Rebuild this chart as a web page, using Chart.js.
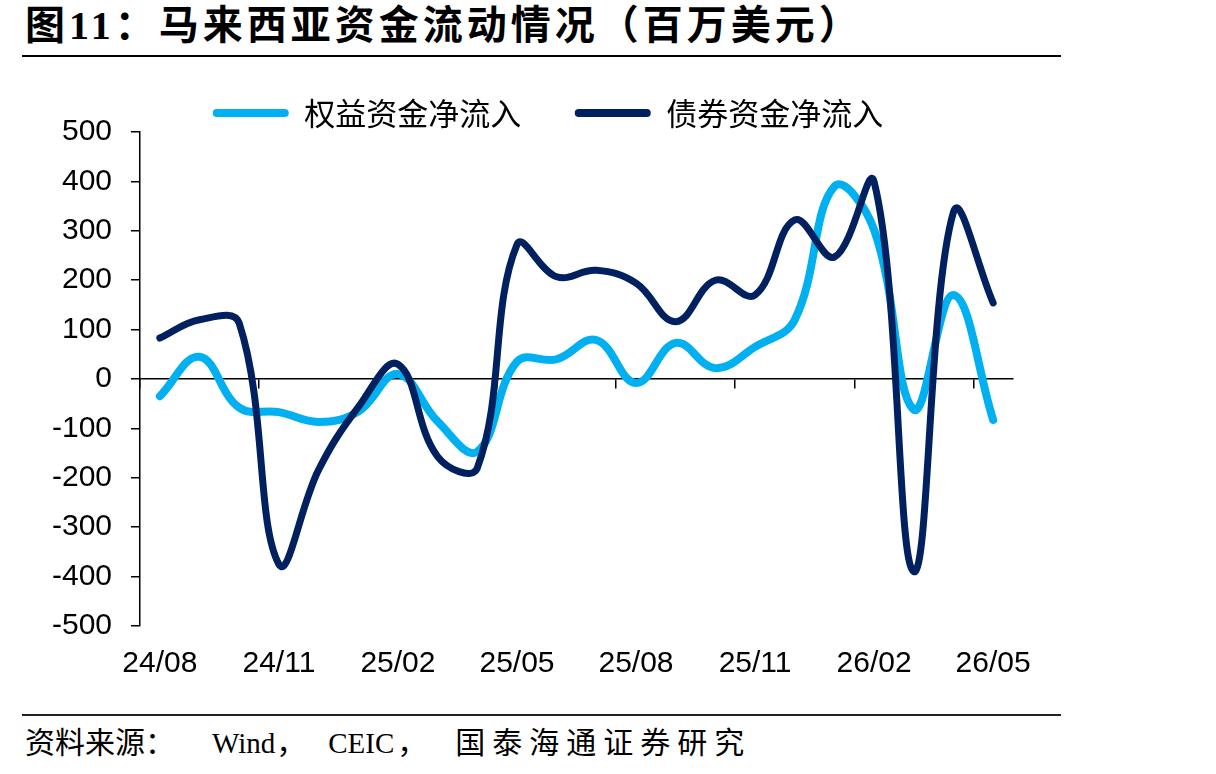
<!DOCTYPE html>
<html>
<head>
<meta charset="utf-8">
<script src="https://cdn.jsdelivr.net/npm/chart.js@4/dist/chart.umd.min.js"></script>
<style>
  body { margin: 0; background: #fff; width: 1216px; height: 774px; position: relative; overflow: hidden; }
  #title { position: absolute; left: 25px; top: 6px; font: bold 40px/40px "Liberation Serif", "Noto Sans CJK SC"; letter-spacing: 4px; color: #000; white-space: nowrap; }
  #rule1 { position: absolute; left: 22px; top: 55px; width: 1039px; height: 2px; background: #000; }
  #rule2 { position: absolute; left: 22px; top: 714px; width: 1039px; height: 2px; background: #222; }
  #source { position: absolute; left: 25px; top: 725px; font: 30px/30px "Noto Sans CJK SC"; color: #000; white-space: nowrap; }
  #source .lat { font-family: "Liberation Serif"; font-size: 29px; }
  #source .wide { letter-spacing: 7px; }
  #wrap { position: absolute; left: 0; top: 44px; }
</style>
</head>
<body>
<div id="title">图11：马来西亚资金流动情况（百万美元）</div>
<div id="rule1"></div>
<div id="wrap"><canvas id="flowChart" width="1096" height="661"></canvas></div>
<div id="rule2"></div>
<div id="source">资料来源：<span class="lat" style="margin-left:37px">Wind</span><span style="margin-left:1px">，</span><span class="lat" style="margin-left:22px">CEIC</span><span style="margin-left:3px">，</span><span class="wide" style="margin-left:28px">国泰海通证券研究</span></div>
<script>
// 月份
const months = ['24/08', '24/09', '24/10', '24/11', '24/12', '25/01', '25/02', '25/03', '25/04', '25/05', '25/06',
  '25/07', '25/08', '25/09', '25/10', '25/11', '25/12', '26/01', '26/02', '26/03', '26/04', '26/05'];
// 权益资金净流入（百万美元）
const equityFlow = [-35, 45, -58, -67, -87, -66, 10, -86, -147, 35, 40, 79, -8, 73, 22, 65, 120, 390, 302, -62, 170, -83];
// 债券资金净流入（百万美元）
const bondFlow = [83, 120, 113, -375, -184, -57, 30, -157, -180, 272, 207, 220, 194, 116, 200, 170, 322, 247, 399, -390, 338, 154];
// y 轴刻度
const yTicks = [-500, -400, -300, -200, -100, 0, 100, 200, 300, 400, 500];

const lightBlue = '#00B0F0';
const navy = '#002060';
const numFont = { family: '"Liberation Sans", Arial, sans-serif', size: 30 };

// 图例高度固定，让图例更贴近绘图区
const legendHeight = {
  id: 'legendHeight',
  beforeInit(chart) {
    const fit = chart.legend.fit;
    chart.legend.fit = function () {
      fit.call(this);
      this.height = 88;
    };
  }
};

new Chart(document.getElementById('flowChart'), {
  type: 'line',
  data: {
    labels: months,
    datasets: [
      {
        label: '权益资金净流入',
        data: equityFlow,
        borderColor: lightBlue,
        backgroundColor: lightBlue,
        borderWidth: 8,
        order: 1
      },
      {
        label: '债券资金净流入',
        data: bondFlow,
        borderColor: navy,
        backgroundColor: navy,
        borderWidth: 7,
        order: 0
      }
    ]
  },
  options: {
    responsive: false,
    animation: false,
    devicePixelRatio: 1,
    layout: { padding: 0 },
    elements: {
      point: { radius: 0 },
      line: { tension: 0.4, fill: false, borderCapStyle: 'round', borderJoinStyle: 'round' }
    },
    plugins: {
      tooltip: { enabled: false },
      legend: {
        position: 'top',
        labels: {
          color: '#000',
          font: { family: '"Noto Sans CJK SC", sans-serif', size: 31 },
          boxWidth: 76,
          boxHeight: 8,
          padding: 53.5,
          useBorderRadius: true,
          borderRadius: 4,
          sort: (a, b) => a.datasetIndex - b.datasetIndex,
          generateLabels(chart) {
            const items = Chart.defaults.plugins.legend.labels.generateLabels(chart);
            items.forEach(it => { it.lineWidth = 0; it.fillStyle = it.strokeStyle; });
            return items;
          }
        }
      }
    },
    scales: {
      x: {
        type: 'category',
        offset: true,
        border: { display: false },
        grid: { display: false, drawTicks: false },
        ticks: {
          autoSkip: false,
          maxRotation: 0,
          minRotation: 0,
          padding: 20,
          color: '#000',
          font: numFont,
          callback(value, index) { return index % 3 === 0 ? this.getLabelForValue(value) : ''; }
        },
        afterFit(scale) { scale.height = 79; }
      },
      x0: {
        type: 'category',
        position: { y: 0 },
        offset: true,
        border: { display: true, color: '#000', width: 1.5 },
        grid: {
          offset: true,
          drawOnChartArea: false,
          drawTicks: true,
          tickLength: 9,
          lineWidth: 1.5,
          color: ctx => (ctx.index % 3 === 0 ? '#000' : 'rgba(0,0,0,0)')
        },
        ticks: { display: false, autoSkip: false }
      },
      y: {
        min: -500,
        max: 500,
        afterBuildTicks(scale) { scale.ticks = yTicks.map(v => ({ value: v })); },
        border: { display: true, color: '#000', width: 1.5 },
        grid: { drawOnChartArea: false, drawTicks: true, tickLength: 9, color: '#000', lineWidth: 1.5 },
        ticks: { color: '#000', font: numFont, padding: 19 },
        afterFit(scale) { scale.width = 140; }
      },
      // 右侧留白（不显示）
      yPad: {
        type: 'linear',
        position: 'right',
        border: { display: false },
        grid: { display: false, drawTicks: false },
        ticks: { display: false },
        afterFit(scale) { scale.width = 83; }
      }
    }
  },
  plugins: [legendHeight]
});
</script>
</body>
</html>
